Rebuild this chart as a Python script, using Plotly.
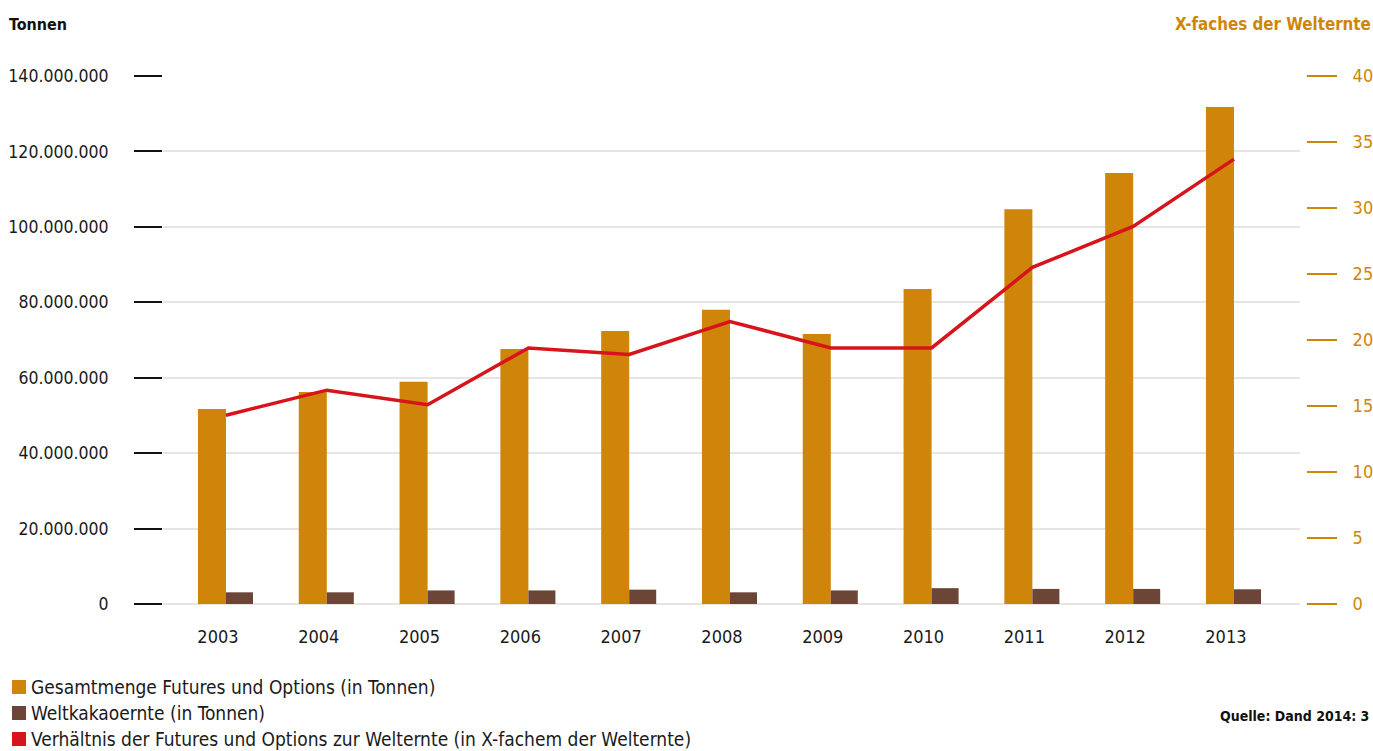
import plotly.graph_objects as go

years = [2003, 2004, 2005, 2006, 2007, 2008, 2009, 2010, 2011, 2012, 2013]
futures_options = [51.7e6, 56.2e6, 58.9e6, 67.6e6, 72.4e6, 78.0e6, 71.6e6, 83.5e6, 104.7e6, 114.3e6, 131.8e6]
world_harvest = [3.1e6, 3.1e6, 3.6e6, 3.6e6, 3.8e6, 3.1e6, 3.6e6, 4.2e6, 4.0e6, 4.0e6, 3.9e6]
ratio = [14.3, 16.2, 15.1, 19.4, 18.9, 21.4, 19.4, 19.4, 25.5, 28.6, 33.7]

legend_labels = [
    "Gesamtmenge Futures und Options (in Tonnen)",
    "Weltkakaoernte (in Tonnen)",
    "Verhältnis der Futures und Options zur Welternte (in X-fachem der Welternte)",
]

ORANGE = "#CF8509"
BROWN = "#6B4637"
RED = "#D7141B"
GRID = "#E8E4E1"
FONT = "DejaVu Sans Condensed, Liberation Sans Narrow, Roboto, sans-serif"

fig = go.Figure()
fig.add_trace(go.Bar(x=years, y=futures_options, name=legend_labels[0],
                     marker=dict(color=ORANGE, line=dict(width=0)),
                     offset=-0.278, width=0.278))
fig.add_trace(go.Bar(x=years, y=world_harvest, name=legend_labels[1],
                     marker=dict(color=BROWN, line=dict(width=0)),
                     offset=0.0, width=0.268))
fig.add_trace(go.Scatter(x=years, y=ratio, name=legend_labels[2], yaxis="y2",
                         mode="lines", line=dict(color=RED, width=3.5)))

W, H = 1373, 751
L, R, T, B = 163, 73, 76, 147
pw, ph = W - L - R, H - T - B

def px(x):
    return (x - L) / pw

def py(y):
    return (H - B - y) / ph

fig.update_layout(
    width=W, height=H, autosize=False,
    margin=dict(l=L, r=R, t=T, b=B, autoexpand=False),
    paper_bgcolor="white", plot_bgcolor="white",
    separators=",.",
    showlegend=False,
    barmode="overlay",
    font=dict(family=FONT, size=17, color="#1a1a1a"),
    xaxis=dict(
        range=[2002.375, 2013.655],
        tickvals=[y - 0.08 for y in years],
        ticktext=[str(y) for y in years],
        showgrid=False, zeroline=False, showline=False,
        ticks="", ticklabelstandoff=20, automargin=False,
        tickfont=dict(size=18, color="#1a1a1a"),
    ),
    yaxis=dict(
        range=[0, 140e6], dtick=20e6, tickformat=",d",
        showgrid=True, gridcolor=GRID, gridwidth=2,
        zeroline=True, zerolinecolor=GRID, zerolinewidth=2,
        showline=False, automargin=False,
        ticks="outside", ticklen=28, tickwidth=2, tickcolor="#111111",
        ticklabelstandoff=22,
        tickfont=dict(size=17.5, color="#1a1a1a"),
    ),
    yaxis2=dict(
        range=[0, 40], dtick=5,
        overlaying="y", side="right", anchor="free", position=1, shift=6,
        showgrid=False, zeroline=False, showline=False, automargin=False,
        ticks="outside", ticklen=30, tickwidth=2, tickcolor=ORANGE,
        ticklabelstandoff=12,
        tickfont=dict(size=18, color=ORANGE),
    ),
)

annotations = [
    dict(text="<b>Tonnen</b>", x=px(7), y=py(24), xanchor="left", yanchor="middle",
         font=dict(size=16, color="#111111")),
    dict(text="<b>X-faches der Welternte</b>", x=px(1373), y=py(24), xanchor="right", yanchor="middle",
         font=dict(size=16.8, color=ORANGE)),
    dict(text="<b>Quelle: Dand 2014: 3</b>", x=px(1371), y=py(716), xanchor="right", yanchor="middle",
         font=dict(size=14, color="#111111")),
]
shapes = []
row_y = [687, 713, 739]
colors = [ORANGE, BROWN, RED]
for label, yy, c in zip(legend_labels, row_y, colors):
    shapes.append(dict(type="rect", xref="paper", yref="paper",
                       x0=px(12), x1=px(26), y0=py(yy - 7), y1=py(yy + 7),
                       fillcolor=c, line=dict(width=0)))
    annotations.append(dict(text=label, x=px(29), y=py(yy), xanchor="left", yanchor="middle",
                            font=dict(size=19, color="#1a1a1a")))

for a in annotations:
    a.update(xref="paper", yref="paper", showarrow=False)
fig.update_layout(annotations=annotations, shapes=shapes)

fig.write_html("out.html", config=dict(displayModeBar=False, responsive=False),
               post_script="document.body.style.margin='0';document.body.style.overflow='hidden';")
